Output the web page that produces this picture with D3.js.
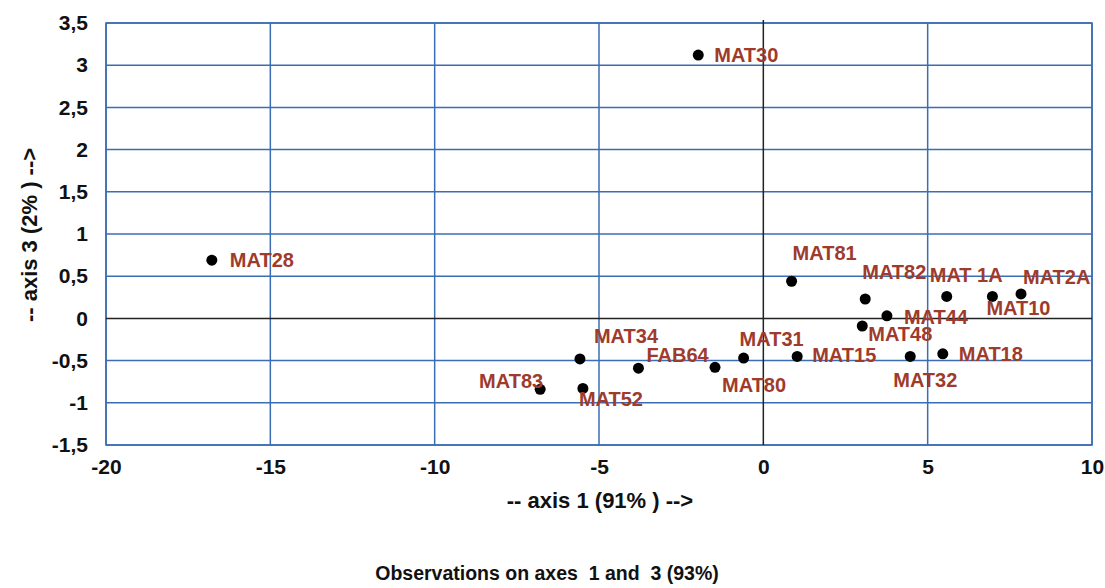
<!DOCTYPE html>
<html>
<head>
<meta charset="utf-8">
<script src="https://cdn.jsdelivr.net/npm/d3@7"></script>
<style>
    html, body { margin: 0; padding: 0; background: #fff; }
    #graph { width: 1105px; height: 588px; }
    text { font-family: Arial, "Liberation Sans", sans-serif; font-weight: bold; }
</style>
</head>
<body>
<div id="graph"></div>
<script>
// Observations (axis 1, axis 3)
const names = ['MAT28', 'MAT30', 'MAT81', 'MAT82', 'MAT 1A', 'MAT10', 'MAT2A', 'MAT44', 'MAT48',
    'MAT15', 'MAT32', 'MAT18', 'MAT31', 'MAT80', 'FAB64', 'MAT34', 'MAT52', 'MAT83'];
const axis1 = [-16.78, -1.98, 0.86, 3.10, 5.58, 6.97, 7.84, 3.76, 3.01,
    1.03, 4.47, 5.46, -0.60, -1.47, -3.80, -5.58, -5.49, -6.79];
const axis3 = [0.69, 3.12, 0.44, 0.23, 0.26, 0.26, 0.29, 0.03, -0.09,
    -0.45, -0.45, -0.42, -0.47, -0.58, -0.59, -0.48, -0.83, -0.84];

const xTicks = [-20, -15, -10, -5, 0, 5, 10];
const yTicks = [-1.5, -1, -0.5, 0, 0.5, 1, 1.5, 2, 2.5, 3, 3.5];

document.addEventListener('DOMContentLoaded', () => {
    const width = 1105;
    const height = 588;

    const svg = d3.select('#graph')
        .append('svg')
        .attr('width', width)
        .attr('height', height);

    const x = d3.scaleLinear().domain([-20, 10]).range([106, 1092]);
    const y = d3.scaleLinear().domain([-1.5, 3.5]).range([445, 23]);

    // label placement next to each dot: [dx, dy, anchor]
    const labelPos = {
        'MAT28': [18, 0, 'start'], 'MAT30': [16, 0, 'start'], 'MAT81': [1, -28, 'start'],
        'MAT82': [-3, -27, 'start'], 'MAT 1A': [-17, -21, 'start'], 'MAT10': [-6, 12, 'start'],
        'MAT2A': [2, -17, 'start'], 'MAT44': [17, 1, 'start'], 'MAT48': [6, 8, 'start'],
        'MAT15': [15, -1, 'start'], 'MAT32': [-17, 24, 'start'], 'MAT18': [16, 0, 'start'],
        'MAT31': [-4, -19, 'start'], 'MAT80': [7, 18, 'start'], 'FAB64': [8, -13, 'start'],
        'MAT34': [14, -23, 'start'], 'MAT52': [-4, 11, 'start'], 'MAT83': [3, -8, 'end']
    };

    const points = names.map((name, i) => ({ name: name, x: axis1[i], y: axis3[i] }));

    const gridColor = '#3a6db3';

    // grid lines
    svg.append('g')
        .selectAll('line')
        .data(yTicks.filter(d => d !== 0))
        .enter()
        .append('line')
        .attr('x1', x.range()[0]).attr('x2', x.range()[1])
        .attr('y1', d => y(d)).attr('y2', d => y(d))
        .attr('stroke', gridColor)
        .attr('stroke-width', 1.5);

    svg.append('g')
        .selectAll('line')
        .data(xTicks.filter(d => d !== 0))
        .enter()
        .append('line')
        .attr('x1', d => x(d)).attr('x2', d => x(d))
        .attr('y1', y.range()[0]).attr('y2', y.range()[1])
        .attr('stroke', gridColor)
        .attr('stroke-width', 1.5);

    // plot border
    svg.append('rect')
        .attr('x', x.range()[0])
        .attr('y', y.range()[1])
        .attr('width', x.range()[1] - x.range()[0])
        .attr('height', y.range()[0] - y.range()[1])
        .attr('fill', 'none')
        .attr('stroke', gridColor)
        .attr('stroke-width', 1.5);

    // zero lines
    svg.append('line')
        .attr('x1', x.range()[0]).attr('x2', x.range()[1])
        .attr('y1', y(0)).attr('y2', y(0))
        .attr('stroke', '#222')
        .attr('stroke-width', 1.5);
    svg.append('line')
        .attr('x1', x(0)).attr('x2', x(0))
        .attr('y1', y.range()[0]).attr('y2', y.range()[1] - 3)
        .attr('stroke', '#222')
        .attr('stroke-width', 1.5);

    // axes (labels only)
    const xAxis = svg.append('g')
        .attr('transform', `translate(0,${y.range()[0]})`)
        .call(d3.axisBottom(x).tickValues(xTicks).tickSize(0).tickPadding(14).tickFormat(d => d));
    const yAxis = svg.append('g')
        .attr('transform', `translate(${x.range()[0]},0)`)
        .call(d3.axisLeft(y).tickValues(yTicks).tickSize(0).tickPadding(18)
            .tickFormat(d => String(d).replace('.', ',')));

    [xAxis, yAxis].forEach(a => {
        a.select('.domain').remove();
        a.selectAll('text')
            .attr('fill', '#111')
            .style('font-size', '21px')
            .style('font-family', 'Arial, "Liberation Sans", sans-serif')
            .style('font-weight', 'bold');
    });

    // dots
    svg.append('g')
        .selectAll('circle')
        .data(points)
        .enter()
        .append('circle')
        .attr('cx', d => x(d.x))
        .attr('cy', d => y(d.y))
        .attr('r', 5.5)
        .attr('fill', '#000');

    // point labels
    svg.append('g')
        .selectAll('text')
        .data(points)
        .enter()
        .append('text')
        .attr('x', d => x(d.x) + labelPos[d.name][0])
        .attr('y', d => y(d.y) + labelPos[d.name][1])
        .attr('dy', '0.35em')
        .attr('text-anchor', d => labelPos[d.name][2])
        .attr('fill', '#9e3b2c')
        .style('font-size', '20px')
        .text(d => d.name);

    // axis titles
    svg.append('text')
        .attr('x', 600)
        .attr('y', 508)
        .attr('text-anchor', 'middle')
        .attr('fill', '#111')
        .style('font-size', '22px')
        .text('-- axis 1 (91% ) -->');

    svg.append('text')
        .attr('transform', 'translate(37,235) rotate(-90)')
        .attr('text-anchor', 'middle')
        .attr('fill', '#111')
        .style('font-size', '22px')
        .text('-- axis 3 (2% ) -->');

    svg.append('text')
        .attr('x', 547)
        .attr('y', 580)
        .attr('text-anchor', 'middle')
        .attr('fill', '#111')
        .style('font-size', '19.5px')
        .style('white-space', 'pre')
        .text('Observations on axes  1 and  3 (93%)');
});
</script>
</body>
</html>
